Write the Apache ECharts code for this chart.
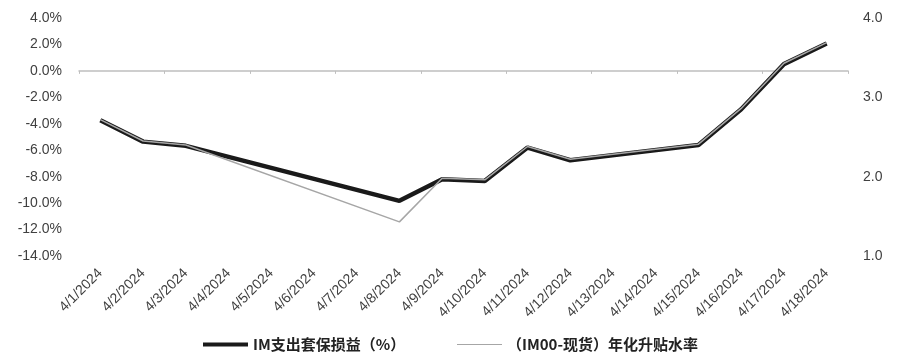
<!DOCTYPE html>
<html>
<head>
<meta charset="utf-8">
<script src="https://cdn.jsdelivr.net/npm/echarts@6/dist/echarts.min.js"></script>
<style>html,body{margin:0;padding:0;background:#fff}#c{width:900px;height:356px}</style>
</head>
<body>
<div id="c"></div>
<script>
const categories = ['4/1/2024','4/2/2024','4/3/2024','4/4/2024','4/5/2024','4/6/2024','4/7/2024','4/8/2024','4/9/2024','4/10/2024','4/11/2024','4/12/2024','4/13/2024','4/14/2024','4/15/2024','4/16/2024','4/17/2024','4/18/2024'];
// IM支出套保损益（%）— left axis; null = non-trading day
const imHedgeCost = [-3.73,-5.35,-5.67,null,null,null,null,-9.83,-8.19,-8.32,-5.80,-6.76,null,null,-5.60,-2.90,0.51,2.07];
// （IM00-现货）年化升贴水率 — right axis
const im00Basis = [2.72,2.45,2.40,null,null,null,null,1.43,1.98,1.96,2.38,2.22,null,null,2.41,2.86,3.43,3.69];
const seriesNames = ['IM支出套保损益（%）','（IM00-现货）年化升贴水率'];

const chart = echarts.init(document.getElementById('c'), null, {renderer:'canvas'});
const axisFont = {fontFamily:'Liberation Sans, Arial, sans-serif', fontSize:14, color:'#404040'};
const legendText = {fontFamily:'Noto Sans CJK SC', fontWeight:'bold', fontSize:15, color:'#222'};
chart.setOption({
  animation:false,
  backgroundColor:'#fff',
  grid:{left:79, right:52, top:18, bottom:100},
  legend:[
    {left:198, top:332, itemWidth:45, itemHeight:4, icon:'rect', itemGap:5,
     textStyle:legendText, data:[{name:seriesNames[0], icon:'rect'}]},
    {left:452, top:332, itemWidth:45, itemHeight:1.2, icon:'rect', itemGap:5,
     textStyle:legendText, data:[{name:seriesNames[1], icon:'rect'}]}
  ],
  xAxis:[
    {type:'category', data:categories, boundaryGap:true, position:'bottom',
     axisLine:{onZero:true, lineStyle:{color:'#bfbfbf', width:1.5}},
     axisTick:{show:true, inside:false, length:3, lineStyle:{color:'#bfbfbf'}},
     axisLabel:{show:false}, splitLine:{show:false}},
    {type:'category', data:categories, boundaryGap:true, position:'bottom', gridIndex:0,
     axisLine:{show:false, onZero:false}, axisTick:{show:false}, splitLine:{show:false},
     axisLabel:Object.assign({rotate:45, interval:0, margin:15}, axisFont, {fontSize:14})}
  ],
  yAxis:[
    {type:'value', min:-14, max:4, interval:2, position:'left',
     axisLine:{show:false}, axisTick:{show:false}, splitLine:{show:false},
     axisLabel:Object.assign({margin:17, formatter:v=>v.toFixed(1)+'%'}, axisFont)},
    {type:'value', min:1, max:4, interval:1, position:'right',
     axisLine:{show:false}, axisTick:{show:false}, splitLine:{show:false},
     axisLabel:Object.assign({margin:15, formatter:v=>v.toFixed(1)}, axisFont)}
  ],
  series:[
    {name:seriesNames[0], type:'line', xAxisIndex:0, yAxisIndex:0, data:imHedgeCost,
     connectNulls:true, symbol:'none', showSymbol:false,
     lineStyle:{color:'#1a1a1a', width:4.5}, itemStyle:{color:'#1a1a1a'}, z:2},
    {name:seriesNames[1], type:'line', xAxisIndex:0, yAxisIndex:1, data:im00Basis,
     connectNulls:true, symbol:'none', showSymbol:false,
     lineStyle:{color:'#a6a6a6', width:1.5}, itemStyle:{color:'#a6a6a6'}, z:3}
  ]
});
</script>
</body>
</html>
